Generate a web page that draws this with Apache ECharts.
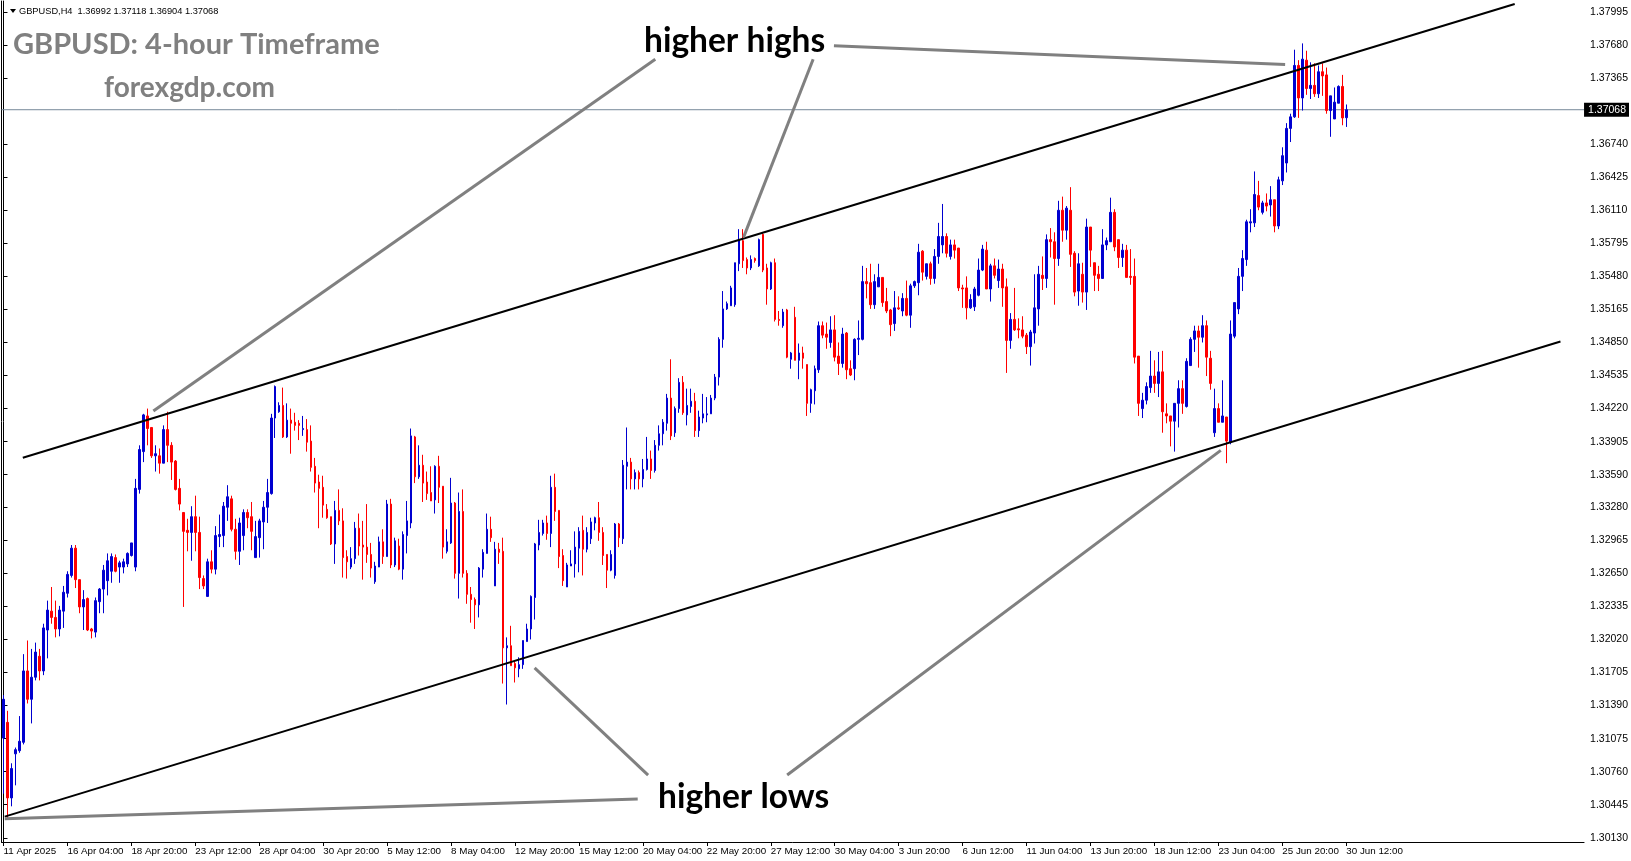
<!DOCTYPE html>
<html><head><meta charset="utf-8">
<script src="https://cdn.jsdelivr.net/npm/echarts@6/dist/echarts.min.js"></script>
<style>html,body{margin:0;padding:0;background:#fff}#c{width:1631px;height:861px}</style>
</head><body><div id="c"></div>
<script>
// ---- data (GBPUSD H4) ----
const opens = [1.3108,1.3123,1.3051,1.3093,1.3096,1.3104,1.3172,1.3145,1.3166,1.3186,1.3172,1.3211,1.3229,1.3223,1.3212,1.3229,1.3246,1.3263,1.3289,1.3259,1.3233,1.3241,1.3212,1.3209,1.3238,1.3250,1.3258,1.3267,1.3280,1.3271,1.3271,1.3274,1.3282,1.3271,1.3345,1.3381,1.3415,1.3404,1.3377,1.3377,1.3370,1.3402,1.3387,1.3372,1.3346,1.3323,1.3306,1.3304,1.3319,1.3304,1.3260,1.3243,1.3276,1.3269,1.3300,1.3301,1.3328,1.3336,1.3307,1.3286,1.3301,1.3323,1.3319,1.3280,1.3299,1.3314,1.3328,1.3341,1.3413,1.3419,1.3425,1.3395,1.3411,1.3409,1.3408,1.3402,1.3402,1.3391,1.3367,1.3352,1.3347,1.3326,1.3319,1.3293,1.3325,1.3315,1.3281,1.3271,1.3279,1.3308,1.3292,1.3290,1.3283,1.3257,1.3271,1.3295,1.3281,1.3331,1.3273,1.3291,1.3269,1.3301,1.3313,1.3395,1.3357,1.3368,1.3352,1.3342,1.3335,1.3367,1.3348,1.3286,1.3294,1.3332,1.3265,1.3324,1.3265,1.3245,1.3240,1.3235,1.3269,1.3284,1.3307,1.3253,1.3288,1.3286,1.3194,1.3196,1.3179,1.3174,1.3178,1.3200,1.3212,1.3242,1.3292,1.3303,1.3313,1.3303,1.3347,1.3325,1.3282,1.3252,1.3272,1.3274,1.3289,1.3306,1.3288,1.3298,1.3313,1.3318,1.3304,1.3283,1.3268,1.3263,1.3312,1.3298,1.3367,1.3371,1.3355,1.3361,1.3355,1.3364,1.3374,1.3363,1.3387,1.3398,1.3408,1.3432,1.3399,1.3422,1.3447,1.3416,1.3424,1.3429,1.3401,1.3413,1.3416,1.3417,1.3432,1.3452,1.3488,1.3517,1.3520,1.3521,1.3560,1.3582,1.3564,1.3556,1.3565,1.3558,1.3588,1.3556,1.3536,1.3561,1.3507,1.3501,1.3516,1.3469,1.3509,1.3468,1.3475,1.3464,1.3427,1.3439,1.3459,1.3501,1.3493,1.3485,1.3497,1.3472,1.3465,1.3494,1.3460,1.3460,1.3488,1.3488,1.3543,1.3542,1.3521,1.3538,1.3547,1.3524,1.3516,1.3503,1.3518,1.3515,1.3527,1.3511,1.3539,1.3542,1.3572,1.3548,1.3560,1.3546,1.3567,1.3578,1.3586,1.3567,1.3578,1.3575,1.3537,1.3537,1.3518,1.3519,1.3530,1.3554,1.3573,1.3536,1.3558,1.3544,1.3555,1.3538,1.3487,1.3507,1.3498,1.3497,1.3492,1.3481,1.3494,1.3517,1.3549,1.3546,1.3583,1.3581,1.3565,1.3611,1.3592,1.3611,1.3570,1.3534,1.3550,1.3533,1.3595,1.3561,1.3550,1.3546,1.3578,1.3581,1.3609,1.3583,1.3566,1.3573,1.3548,1.3548,1.3472,1.3422,1.3430,1.3442,1.3453,1.3446,1.3457,1.3417,1.3415,1.3410,1.3427,1.3441,1.3424,1.3463,1.3488,1.3496,1.3490,1.3501,1.3470,1.3399,1.3422,1.3409,1.3414,1.3390,1.3491,1.3517,1.3548,1.3564,1.3599,1.3599,1.3625,1.3609,1.3618,1.3616,1.3621,1.3596,1.3639,1.3656,1.3689,1.3700,1.3749,1.3718,1.3754,1.3727,1.3730,1.3722,1.3743,1.3740,1.3706,1.3698,1.3713,1.3729,1.36992];
const highs = [1.3149,1.3134,1.3084,1.3099,1.3129,1.3188,1.3201,1.3193,1.3199,1.3193,1.3217,1.3239,1.3252,1.3239,1.3234,1.3253,1.3267,1.3292,1.3292,1.3259,1.3249,1.3242,1.3213,1.3242,1.3251,1.3273,1.3284,1.3284,1.3283,1.3277,1.3279,1.3285,1.3294,1.3355,1.3387,1.3417,1.3422,1.3404,1.3387,1.3384,1.3406,1.3419,1.3390,1.3373,1.3355,1.3323,1.3317,1.3329,1.3339,1.3319,1.3263,1.3279,1.3287,1.3310,1.3321,1.3333,1.3349,1.3339,1.3317,1.3318,1.3326,1.3326,1.3333,1.3315,1.3317,1.3334,1.3355,1.3417,1.3444,1.3428,1.3442,1.3427,1.3422,1.3418,1.3411,1.3415,1.3412,1.3406,1.3375,1.3359,1.3358,1.3331,1.3319,1.3334,1.3345,1.3327,1.3287,1.3290,1.3314,1.3322,1.3315,1.3331,1.3294,1.3276,1.3300,1.3307,1.3335,1.3336,1.3299,1.3298,1.3305,1.3334,1.3403,1.3396,1.3387,1.3378,1.3362,1.3367,1.3368,1.3377,1.3348,1.3307,1.3356,1.3333,1.3342,1.3345,1.3268,1.3252,1.3242,1.3271,1.3288,1.3322,1.3319,1.3295,1.3294,1.3299,1.3204,1.3215,1.3182,1.3185,1.3201,1.3217,1.3244,1.3294,1.3316,1.3316,1.3320,1.3358,1.3360,1.3325,1.3288,1.3275,1.3287,1.3305,1.3309,1.3320,1.3309,1.3318,1.3319,1.3333,1.3309,1.3283,1.3287,1.3313,1.3313,1.3373,1.3404,1.3375,1.3364,1.3363,1.3374,1.3395,1.3382,1.3392,1.3406,1.3412,1.3436,1.3469,1.3424,1.3451,1.3453,1.3441,1.3441,1.3437,1.3420,1.3436,1.3433,1.3435,1.3455,1.3490,1.3534,1.3524,1.3539,1.3561,1.3593,1.3593,1.3566,1.3568,1.3566,1.3584,1.3590,1.3560,1.3562,1.3565,1.3515,1.3517,1.3517,1.3476,1.3519,1.3484,1.3481,1.3464,1.3441,1.3463,1.3505,1.3505,1.3504,1.3510,1.3511,1.3485,1.3499,1.3495,1.3468,1.3489,1.3506,1.3558,1.3556,1.3560,1.3550,1.3560,1.3547,1.3537,1.3517,1.3534,1.3529,1.3532,1.3544,1.3541,1.3544,1.3579,1.3573,1.3560,1.3562,1.3574,1.3599,1.3617,1.3589,1.3583,1.3583,1.3575,1.3540,1.3548,1.3531,1.3538,1.3565,1.3578,1.3581,1.3560,1.3565,1.3564,1.3560,1.3546,1.3513,1.3537,1.3508,1.3510,1.3494,1.3497,1.3550,1.3558,1.3567,1.3588,1.3594,1.3590,1.3620,1.3624,1.3615,1.3633,1.3572,1.3570,1.3561,1.3603,1.3595,1.3561,1.3558,1.3593,1.3585,1.3623,1.3612,1.3583,1.3579,1.3578,1.3574,1.3565,1.3472,1.3437,1.3447,1.3477,1.3468,1.3476,1.3477,1.3427,1.3415,1.3427,1.3449,1.3449,1.3470,1.3490,1.3501,1.3501,1.3511,1.3506,1.3477,1.3441,1.3427,1.3449,1.3414,1.3506,1.3523,1.3556,1.3573,1.3602,1.3612,1.3648,1.3639,1.3620,1.3627,1.3634,1.3621,1.3643,1.3671,1.3694,1.3703,1.3764,1.3754,1.3770,1.3763,1.3752,1.3751,1.3749,1.3751,1.3747,1.3720,1.3728,1.3730,1.3740,1.37118];
const lows = [1.3055,1.3030,1.3043,1.3063,1.3094,1.3102,1.3141,1.3122,1.3163,1.3163,1.3168,1.3184,1.3217,1.3204,1.3205,1.3213,1.3242,1.3261,1.3251,1.3227,1.3211,1.3210,1.3203,1.3204,1.3227,1.3227,1.3244,1.3256,1.3266,1.3256,1.3265,1.3271,1.3281,1.3267,1.3341,1.3371,1.3387,1.3375,1.3362,1.3360,1.3370,1.3371,1.3354,1.3344,1.3325,1.3233,1.3286,1.3277,1.3286,1.3250,1.3250,1.3243,1.3265,1.3264,1.3290,1.3290,1.3315,1.3305,1.3278,1.3273,1.3287,1.3308,1.3287,1.3280,1.3280,1.3288,1.3313,1.3340,1.3394,1.3418,1.3394,1.3394,1.3379,1.3401,1.3392,1.3396,1.3381,1.3362,1.3342,1.3308,1.3318,1.3317,1.3292,1.3274,1.3311,1.3261,1.3260,1.3269,1.3274,1.3282,1.3259,1.3275,1.3261,1.3255,1.3271,1.3274,1.3281,1.3270,1.3271,1.3268,1.3259,1.3284,1.3308,1.3351,1.3355,1.3333,1.3335,1.3334,1.3322,1.3332,1.3279,1.3284,1.3293,1.3260,1.3241,1.3261,1.3236,1.3218,1.3212,1.3223,1.3261,1.3284,1.3295,1.3253,1.3274,1.3160,1.3140,1.3177,1.3161,1.3166,1.3174,1.3200,1.3202,1.3221,1.3287,1.3301,1.3297,1.3290,1.3315,1.3270,1.3253,1.3252,1.3272,1.3261,1.3266,1.3263,1.3285,1.3293,1.3306,1.3296,1.3273,1.3251,1.3267,1.3260,1.3290,1.3293,1.3345,1.3345,1.3345,1.3345,1.3347,1.3363,1.3355,1.3361,1.3382,1.3387,1.3401,1.3392,1.3395,1.3418,1.3416,1.3406,1.3418,1.3395,1.3395,1.3408,1.3409,1.3417,1.3430,1.3444,1.3480,1.3516,1.3520,1.3519,1.3553,1.3556,1.3550,1.3554,1.3561,1.3557,1.3552,1.3521,1.3535,1.3505,1.3501,1.3499,1.3470,1.3460,1.3468,1.3450,1.3460,1.3415,1.3418,1.3426,1.3456,1.3489,1.3479,1.3480,1.3467,1.3454,1.3461,1.3450,1.3453,1.3449,1.3473,1.3487,1.3527,1.3517,1.3517,1.3538,1.3519,1.3513,1.3491,1.3496,1.3516,1.3510,1.3510,1.3499,1.3537,1.3530,1.3544,1.3545,1.3540,1.3541,1.3560,1.3570,1.3566,1.3564,1.3565,1.3534,1.3518,1.3507,1.3517,1.3515,1.3529,1.3553,1.3536,1.3524,1.3546,1.3537,1.3519,1.3456,1.3479,1.3496,1.3489,1.3489,1.3474,1.3463,1.3484,1.3501,1.3535,1.3537,1.3566,1.3521,1.3558,1.3581,1.3583,1.3557,1.3529,1.3520,1.3523,1.3516,1.3557,1.3534,1.3534,1.3546,1.3573,1.3581,1.3572,1.3556,1.3557,1.3547,1.3540,1.3465,1.3415,1.3413,1.3426,1.3437,1.3437,1.3433,1.3399,1.3408,1.3386,1.3381,1.3404,1.3417,1.3423,1.3463,1.3476,1.3461,1.3485,1.3453,1.3440,1.3395,1.3409,1.3409,1.3370,1.3388,1.3489,1.3512,1.3534,1.3558,1.3590,1.3595,1.3611,1.3607,1.3610,1.3605,1.3590,1.3593,1.3635,1.3647,1.3676,1.3699,1.3699,1.3706,1.3721,1.3717,1.3719,1.3718,1.3720,1.3703,1.3681,1.3698,1.3713,1.3692,1.36904];
const closes = [1.3145,1.3051,1.3079,1.3097,1.3105,1.3172,1.3145,1.3166,1.3190,1.3172,1.3213,1.3230,1.3223,1.3212,1.3230,1.3247,1.3264,1.3289,1.3259,1.3233,1.3240,1.3211,1.3210,1.3239,1.3250,1.3268,1.3277,1.3281,1.3267,1.3275,1.3276,1.3284,1.3294,1.3346,1.3383,1.3416,1.3403,1.3377,1.3379,1.3370,1.3402,1.3387,1.3371,1.3345,1.3331,1.3305,1.3304,1.3319,1.3304,1.3261,1.3253,1.3276,1.3269,1.3301,1.3302,1.3329,1.3338,1.3307,1.3286,1.3313,1.3323,1.3318,1.3305,1.3300,1.3315,1.3328,1.3342,1.3413,1.3443,1.3425,1.3395,1.3411,1.3408,1.3406,1.3406,1.3403,1.3390,1.3366,1.3351,1.3346,1.3330,1.3318,1.3293,1.3325,1.3315,1.3280,1.3276,1.3279,1.3308,1.3291,1.3290,1.3283,1.3270,1.3272,1.3295,1.3281,1.3331,1.3273,1.3296,1.3269,1.3302,1.3315,1.3396,1.3357,1.3368,1.3351,1.3341,1.3334,1.3367,1.3347,1.3290,1.3295,1.3332,1.3265,1.3324,1.3265,1.3245,1.3240,1.3235,1.3270,1.3285,1.3307,1.3299,1.3288,1.3285,1.3194,1.3196,1.3177,1.3175,1.3178,1.3201,1.3212,1.3243,1.3293,1.3304,1.3313,1.3303,1.3347,1.3324,1.3281,1.3258,1.3273,1.3274,1.3290,1.3305,1.3288,1.3304,1.3314,1.3318,1.3304,1.3282,1.3268,1.3283,1.3312,1.3299,1.3368,1.3371,1.3355,1.3361,1.3355,1.3364,1.3374,1.3363,1.3387,1.3398,1.3409,1.3432,1.3396,1.3422,1.3447,1.3418,1.3425,1.3429,1.3401,1.3414,1.3417,1.3417,1.3432,1.3452,1.3488,1.3517,1.3522,1.3537,1.3561,1.3583,1.3563,1.3556,1.3564,1.3563,1.3583,1.3554,1.3536,1.3561,1.3507,1.3506,1.3514,1.3471,1.3475,1.3468,1.3475,1.3470,1.3427,1.3440,1.3460,1.3501,1.3492,1.3490,1.3497,1.3471,1.3465,1.3493,1.3459,1.3454,1.3488,1.3489,1.3543,1.3541,1.3521,1.3543,1.3547,1.3523,1.3515,1.3502,1.3518,1.3517,1.3527,1.3511,1.3539,1.3543,1.3571,1.3552,1.3560,1.3546,1.3567,1.3586,1.3586,1.3570,1.3578,1.3573,1.3537,1.3536,1.3518,1.3526,1.3536,1.3554,1.3574,1.3536,1.3558,1.3549,1.3555,1.3537,1.3487,1.3507,1.3497,1.3497,1.3491,1.3481,1.3495,1.3518,1.3550,1.3546,1.3583,1.3581,1.3565,1.3611,1.3592,1.3613,1.3569,1.3533,1.3560,1.3533,1.3595,1.3573,1.3549,1.3546,1.3578,1.3582,1.3609,1.3576,1.3566,1.3573,1.3547,1.3547,1.3471,1.3427,1.3430,1.3443,1.3453,1.3446,1.3457,1.3419,1.3415,1.3410,1.3427,1.3441,1.3427,1.3467,1.3488,1.3496,1.3490,1.3501,1.3471,1.3446,1.3422,1.3409,1.3415,1.3391,1.3493,1.3523,1.3548,1.3565,1.3600,1.3600,1.3626,1.3614,1.3618,1.3615,1.3621,1.3596,1.3640,1.3663,1.3689,1.3700,1.3749,1.3718,1.3755,1.3727,1.3730,1.3722,1.3743,1.3739,1.3706,1.3720,1.3714,1.3729,1.3699,1.37068];

const xTickLabels = ['11 Apr 2025','16 Apr 04:00','18 Apr 20:00','23 Apr 12:00','28 Apr 04:00','30 Apr 20:00','5 May 12:00','8 May 04:00','12 May 20:00','15 May 12:00','20 May 04:00','22 May 20:00','27 May 12:00','30 May 04:00','3 Jun 20:00','6 Jun 12:00','11 Jun 04:00','13 Jun 20:00','18 Jun 12:00','23 Jun 04:00','25 Jun 20:00','30 Jun 12:00'];
const barsPerLabel = 16;
const yTickLabels = ['1.37995','1.37680','1.37365','1.36740','1.36425','1.36110','1.35795','1.35480','1.35165','1.34850','1.34535','1.34220','1.33905','1.33590','1.33280','1.32965','1.32650','1.32335','1.32020','1.31705','1.31390','1.31075','1.30760','1.30445','1.30130'];
const lastPrice = 1.37068;
const headerText = 'GBPUSD,H4  1.36992 1.37118 1.36904 1.37068';

// trend lines in (bar index, price)
const upperChannel = [[4.83, 1.33752], [378.15, 1.38076]];
const lowerChannel = [[0.3, 1.30332], [389.6, 1.34860]];
const pointerLines = [
  [[163.1, 1.37549], [37.5, 1.34198]],
  [[202.6, 1.37549], [185.2, 1.35854]],
  [[207.8, 1.37678], [320.7, 1.37499]],
  [[161.3, 1.30728], [132.9, 1.31750]],
  [[196.1, 1.30728], [304.6, 1.33822]],
  [[158.7, 1.30500], [0.3, 1.30312]]
];

// ---- chart ----
const slotCount = 396;
const yMin = 1.30090, yMax = 1.38104;
const cats = [];
for (let i = 0; i < slotCount; i++) cats.push(String(i));
const candleData = opens.map((o, i) => [o, closes[i], lows[i], highs[i]]);
const showTick = (idx) => idx % barsPerLabel === 0 && idx / barsPerLabel < xTickLabels.length;

const series = [{
  type: 'candlestick',
  xAxisIndex: 0, yAxisIndex: 0,
  data: candleData,
  barWidth: 2,
  itemStyle: { color: '#0000D0', color0: '#FF0000', borderColor: '#0000D0', borderColor0: '#FF0000', borderWidth: 1 },
  z: 3
}];
// current price line with its label box at the price axis
series.push({
  type: 'line', xAxisIndex: 1, yAxisIndex: 0,
  data: [[-0.5, lastPrice], [slotCount - 0.5, lastPrice]],
  symbol: 'none', silent: true, z: 2,
  lineStyle: { color: '#778899', width: 1 },
  endLabel: { show: true, formatter: () => lastPrice.toFixed(5), color: '#fff', backgroundColor: '#000', padding: [2, 3, 1, 4], fontFamily: 'Liberation Sans', fontSize: 10.5, distance: 0 }
});
series.push({ type: 'line', xAxisIndex: 1, yAxisIndex: 0, data: upperChannel, symbol: 'none', lineStyle: { color: '#000', width: 2 }, z: 4, silent: true });
series.push({ type: 'line', xAxisIndex: 1, yAxisIndex: 0, data: lowerChannel, symbol: 'none', lineStyle: { color: '#000', width: 2 }, z: 4, silent: true });
pointerLines.forEach(p => series.push({ type: 'line', xAxisIndex: 1, yAxisIndex: 0, data: p, symbol: 'none', lineStyle: { color: '#808080', width: 3 }, z: 5, silent: true }));

const chart = echarts.init(document.getElementById('c'), null, { renderer: 'canvas' });
chart.setOption({
  animation: false,
  backgroundColor: '#fff',
  grid: { left: 1.5, right: 45.5, top: 1, bottom: 19, show: false },
  xAxis: [{
    type: 'category', data: cats, boundaryGap: true,
    axisLine: { show: true, lineStyle: { color: '#000', width: 1 } },
    axisTick: { show: true, alignWithLabel: true, interval: showTick, length: 4, lineStyle: { color: '#000' } },
    axisLabel: { show: true, interval: showTick, formatter: (v, idx) => xTickLabels[idx / barsPerLabel] || '', align: 'left', color: '#000', fontFamily: 'Liberation Sans', fontSize: 9.8, margin: 4 },
    splitLine: { show: false }
  }, {
    type: 'value', min: -0.5, max: slotCount - 0.5, show: false
  }],
  yAxis: [{
    type: 'value', position: 'right', min: yMin, max: yMax, scale: true,
    axisLine: { show: true, lineStyle: { color: '#000', width: 1 } },
    axisTick: { show: true, length: 4, lineStyle: { color: '#000' }, customValues: yTickLabels.map(Number) },
    axisLabel: { show: true, customValues: yTickLabels.map(Number), formatter: v => v.toFixed(5), color: '#000', fontFamily: 'Liberation Sans', fontSize: 10.5, margin: 6 },
    splitLine: { show: false }
  }, {
    type: 'value', position: 'left', min: yMin, max: yMax, scale: true,
    axisLine: { show: true, lineStyle: { color: '#000', width: 1 } },
    axisTick: { show: false }, axisLabel: { show: false }, splitLine: { show: false }
  }],
  series: series,
  graphic: [
    { type: 'polygon', shape: { points: [[10, 9], [16, 9], [13, 13]] }, style: { fill: '#000' }, z: 10 },
    { type: 'text', x: 19, y: 11, style: { text: headerText, font: '9.25px "Liberation Sans"', fill: '#000', textVerticalAlign: 'middle', verticalAlign: 'middle' }, z: 10 },
    { type: 'text', x: 13, y: 45, style: { text: 'GBPUSD: 4-hour Timeframe', font: 'bold 29px Lato', fill: '#808080', textVerticalAlign: 'middle', verticalAlign: 'middle' }, z: 10 },
    { type: 'text', x: 104, y: 88, style: { text: 'forexgdp.com', font: 'bold 28px Lato', fill: '#808080', textVerticalAlign: 'middle', verticalAlign: 'middle' }, z: 10 },
    { type: 'text', x: 644, y: 41, style: { text: 'higher highs', font: 'bold 33.5px Lato', fill: '#000', textVerticalAlign: 'middle', verticalAlign: 'middle' }, z: 10 },
    { type: 'text', x: 658, y: 797, style: { text: 'higher lows', font: 'bold 33.5px Lato', fill: '#000', textVerticalAlign: 'middle', verticalAlign: 'middle' }, z: 10 }
  ]
});
</script>
</body></html>
